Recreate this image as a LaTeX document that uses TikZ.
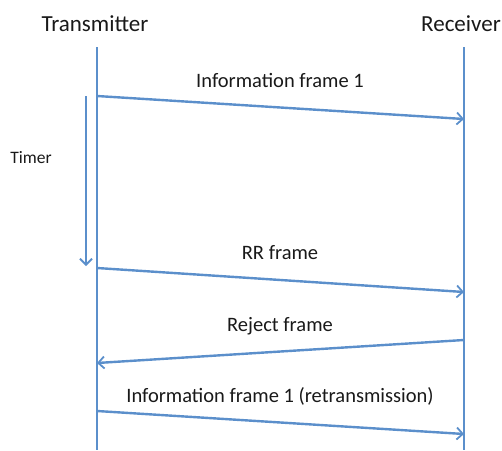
\documentclass[tikz,border=0pt]{standalone}
\usepackage{fontspec}
\setmainfont{Carlito}
\usetikzlibrary{arrows.meta}
\definecolor{lineblue}{HTML}{5B8FCB}
\tikzset{
  life/.style={draw=lineblue, line width=2.4pt},
  msg/.style={draw=lineblue, line width=2.4pt, -{Straight Barb[length=6pt,width=12pt,line width=1.8pt]}},
  head/.style={font=\fontsize{23}{25}\selectfont, text=black!90, inner sep=0pt},
  lbl/.style={font=\fontsize{20.5}{22}\selectfont, text=black!90, inner sep=0pt},
  small/.style={font=\fontsize{17.5}{19}\selectfont, text=black!90, inner sep=0pt}
}
\begin{document}
\begin{tikzpicture}[x=1pt,y=-1pt]
\useasboundingbox (0,0) rectangle (502,450);
\node[head] (tx) at (95,24) {Transmitter};
\node[head] (rx) at (461,24) {Receiver};
\coordinate (ttop) at (97,47);
\coordinate (tbot) at (97,450);
\coordinate (rtop) at (464,47);
\coordinate (rbot) at (464,450);
\draw[life] (ttop) -- (tbot);
\draw[life] (rtop) -- (rbot);
% timer
\coordinate (tm1) at (86,96);
\coordinate (tm2) at (86,266);
\draw[msg] (tm1) -- (tm2);
\node[small] (timer) at (31,158) {Timer};
% messages
\coordinate (a1) at (97,96);
\coordinate (b1) at (464,119);
\draw[msg] (a1) -- (b1);
\node[lbl] (l1) at (280,80) {Information frame 1};
\coordinate (a2) at (97,268);
\coordinate (b2) at (464,292);
\draw[msg] (a2) -- (b2);
\node[lbl] (l2) at (280,253) {RR frame};
\coordinate (a3) at (464,340);
\coordinate (b3) at (97,363);
\draw[msg] (a3) -- (b3);
\node[lbl] (l3) at (280,326) {Reject frame};
\coordinate (a4) at (97,411);
\coordinate (b4) at (464,434);
\draw[msg] (a4) -- (b4);
\node[lbl] (l4) at (280,396) {Information frame 1 (retransmission)};
\end{tikzpicture}
\end{document}
